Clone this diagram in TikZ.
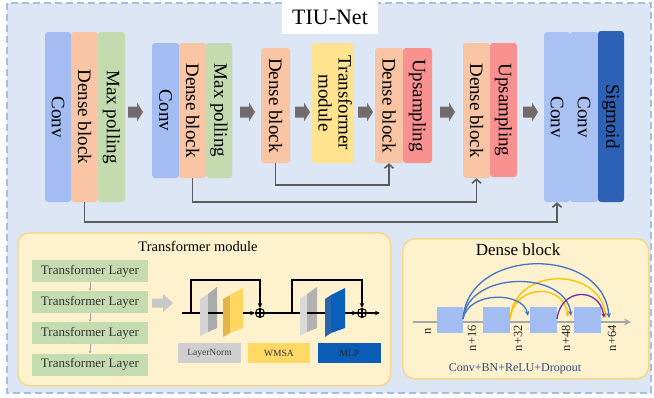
\documentclass[tikz,border=0pt]{standalone}
\usepackage{fontspec}
\setmainfont{Liberation Serif}
\usetikzlibrary{arrows.meta,calc}
\definecolor{bgc}{HTML}{DCE6F4}
\definecolor{bgborder}{HTML}{A7BDE6}
\definecolor{convc}{HTML}{A3BCF1}
\definecolor{convlc}{HTML}{A9C1F3}
\definecolor{densec}{HTML}{F9C5A4}
\definecolor{maxc}{HTML}{C4DAAF}
\definecolor{upc}{HTML}{F99191}
\definecolor{sigc}{HTML}{2D61B6}
\definecolor{tmc}{HTML}{FFE38E}
\definecolor{arrc}{HTML}{736B6B}
\definecolor{skipc}{HTML}{5A5A5A}
\definecolor{panelc}{HTML}{FDF1CE}
\definecolor{panelb}{HTML}{F6D98C}
\definecolor{tlc}{HTML}{C5DCB0}
\definecolor{arcblue}{HTML}{4472C4}
\definecolor{arcyel}{HTML}{FFC000}
\definecolor{arcpur}{HTML}{7030A0}
\definecolor{dtext}{HTML}{2F4A78}
\definecolor{yeldark}{HTML}{E2B548}
\definecolor{yellight}{HTML}{FFD760}
\definecolor{bluedark}{HTML}{2A65AC}
\definecolor{bluelight}{HTML}{0B5FBC}
\definecolor{wmsac}{HTML}{FFD966}
\definecolor{mlpc}{HTML}{0B5CB5}
\begin{document}
\begin{tikzpicture}[x=1pt,y=-1pt,
  blk/.style={rounded corners=3pt, inner sep=0pt, font=\fontsize{19}{22}\selectfont},
  skip/.style={draw=skipc, line width=1.6pt, -{Straight Barb[length=4pt,width=9pt]}},
  panel/.style={rounded corners=12pt, fill=panelc, draw=panelb, line width=1.5pt, inner sep=0pt},
  tlayer/.style={fill=tlc, inner sep=0pt, minimum width=116, minimum height=22, font=\fontsize{13}{15}\selectfont, text=black!80},
  smallarr/.style={draw=black!35, line width=0.8pt, -{Stealth[length=2.5pt,width=3pt]}},
  tline/.style={draw=black, line width=1.1pt},
  tarr/.style={tline, -{Stealth[length=5pt,width=4.5pt]}},
  plus/.style={circle, draw=black, line width=1pt, fill=panelc, minimum size=9, inner sep=0pt},
  legend/.style={inner sep=0pt, minimum height=20, font=\fontsize{9.5}{11}\selectfont},
  dbox/.style={fill=convc, inner sep=0pt, minimum width=27, minimum height=26},
  nlab/.style={rotate=90, anchor=east, inner sep=0pt, font=\fontsize{12.5}{14}\selectfont, text=black!85},
  arc/.style={line width=1.3pt, -{Stealth[length=5pt,width=4.5pt]}},
  fatarrow/.pic={\fill[arrc] (0,-5.5) -- (9,-5.5) -- (9,-9.5) -- (15,0) -- (9,9.5) -- (9,5.5) -- (0,5.5) -- cycle;},
  lightarrow/.pic={\fill[black!22] (0,-4.5) -- (11,-4.5) -- (11,-9) -- (21,0) -- (11,9) -- (11,4.5) -- (0,4.5) -- cycle;}
]
\useasboundingbox (0,0) rectangle (654,397);
% background
\fill[bgc] (7,3) rectangle (651,393);
\draw[bgborder, line width=1.8pt, dash pattern=on 7pt off 4pt] (7,3) rectangle (651,393);
% title
\node[fill=white, inner sep=0pt, minimum width=96, minimum height=34, font=\fontsize{22}{24}\selectfont] (title) at (330,17) {TIU-Net};

% encoder
\node[blk, fill=convc, minimum width=26, minimum height=170] (c1) at (58,117) {\rotatebox{-90}{Conv}};
\node[blk, fill=densec, minimum width=27, minimum height=170] (d1) at (84.5,117) {\rotatebox{-90}{Dense block}};
\node[blk, fill=maxc, minimum width=27, minimum height=170] (m1) at (111.5,117) {\rotatebox{-90}{Max polling}};
\node[blk, fill=convc, minimum width=27, minimum height=135] (c2) at (165.5,110.5) {\rotatebox{-90}{Conv}};
\node[blk, fill=densec, minimum width=27, minimum height=135] (d2) at (192.5,110.5) {\rotatebox{-90}{Dense block}};
\node[blk, fill=maxc, minimum width=26, minimum height=135] (m2) at (219,110.5) {\rotatebox{-90}{Max polling}};
\node[blk, fill=densec, minimum width=29, minimum height=115] (d3) at (275.5,105.5) {\rotatebox{-90}{Dense block}};
\node[blk, fill=tmc, minimum width=42, minimum height=120] (tm) at (333,103) {\rotatebox{-90}{\begin{tabular}{@{}c@{}}Transformer\\[-2pt]module\end{tabular}}};
\node[blk, fill=densec, minimum width=28, minimum height=115] (d4) at (389,105.5) {\rotatebox{-90}{Dense block}};
\node[blk, fill=upc, minimum width=29, minimum height=115] (u1) at (417.5,105.5) {\rotatebox{-90}{Upsampling}};
\node[blk, fill=densec, minimum width=27, minimum height=135] (d5) at (476.5,110.5) {\rotatebox{-90}{Dense block}};
\node[blk, fill=upc, minimum width=27, minimum height=134] (u2) at (503.5,110) {\rotatebox{-90}{Upsampling}};
\node[blk, fill=convlc, minimum width=26, minimum height=170] (c3) at (557,117) {\rotatebox{-90}{Conv}};
\node[blk, fill=convlc, minimum width=28, minimum height=170] (c4) at (584,117) {\rotatebox{-90}{Conv}};
\node[blk, fill=sigc, minimum width=26, minimum height=171] (sg) at (611,116.5) {\rotatebox{-90}{Sigmoid}};

% block arrows
\pic at (128,112) {fatarrow};
\pic at (240,112) {fatarrow};
\pic at (295,112) {fatarrow};
\pic at (358,112) {fatarrow};
\pic at (440,112) {fatarrow};
\pic at (523,112) {fatarrow};

% skip connections
\draw[skip] (d3.south) -- ++(0,22) -| (d4.south);
\draw[skip] (d2.south) -- ++(0,24) -| (d5.south);
\draw[skip] (d1.south) -- ++(0,20) -| (c3.south);

% ---------- Transformer module panel
\node[panel, minimum width=373, minimum height=153, anchor=north west] (tp) at (17,232) {};
\node[font=\fontsize{14.5}{16}\selectfont] (tpt) at (198,246) {Transformer module};
\node[tlayer] (tl1) at (90,271) {Transformer Layer};
\node[tlayer] (tl2) at (90,302) {Transformer Layer};
\node[tlayer] (tl3) at (90,333) {Transformer Layer};
\node[tlayer] (tl4) at (90,364.5) {Transformer Layer};
\draw[smallarr] (tl1.south) -- (tl2.north);
\draw[smallarr] (tl2.south) -- (tl3.north);
\draw[smallarr] (tl3.south) -- (tl4.north);
\pic at (152,303) {lightarrow};

\coordinate (tin) at (182,313);
\coordinate (s1) at (191,313);
\coordinate (s2) at (292,313);
\coordinate (tout) at (380,313);
\node[plus] (p1) at (260,313) {};
\node[plus] (p2) at (362,313) {};
\draw[tline] (p1.north) -- (p1.south) (p1.west) -- (p1.east);
\draw[tline] (p2.north) -- (p2.south) (p2.west) -- (p2.east);
\draw[tarr] (tin) -- (p1.west);
\draw[tline] (p1.east) -- (p2.west);
\draw[tarr] ($(p2.west)+(-10,0)$) -- (p2.west);
\draw[tarr] (p2.east) -- (tout);
\draw[tarr] (s1) -- (191,280) -| (p1.north);
\draw[tarr] (s2) -- (292,280) -| (p2.north);
% plates
\fill[black!17] (200,299) -- (208,294) -- (208,332) -- (200,336) -- cycle;
\fill[black!33] (208,294) -- (217,287) -- (217,328) -- (208,332) -- cycle;
\fill[yeldark] (223,299) -- (230,295) -- (230,333) -- (223,337) -- cycle;
\fill[yellight] (230,295) -- (243,288) -- (243,328) -- (230,333) -- cycle;
\fill[black!15] (300,299) -- (307,294) -- (307,332) -- (300,336) -- cycle;
\fill[black!30] (307,294) -- (317,287) -- (317,328) -- (307,332) -- cycle;
\fill[bluedark] (325,299) -- (331,295) -- (331,333) -- (325,337) -- cycle;
\fill[bluelight] (331,295) -- (345,288) -- (345,328) -- (331,333) -- cycle;
\draw[tline] (208,313) -- (223,313);
\draw[tline] (243,313) -- (250,313);
\draw[tline] (307,313) -- (325,313);
\draw[tline] (345,313) -- (350,313);
% legends
\node[legend, fill=black!19, minimum width=63, text=black!75] (lg1) at (209.5,353) {LayerNorm};
\node[legend, fill=wmsac, minimum width=62, text=black!80] (lg2) at (279,353) {WMSA};
\node[legend, fill=mlpc, minimum width=63, text=black!85] (lg3) at (349.5,353) {MLP};

% ---------- Dense block panel
\node[panel, minimum width=246, minimum height=140, anchor=north west] (dp) at (402,238) {};
\node[font=\fontsize{17}{19}\selectfont] (dpt) at (518,250) {Dense block};
\coordinate (ax0) at (413,322);
\coordinate (ax1) at (631,322);
\draw[black!35, line width=2.2pt, -{Stealth[length=7pt,width=7pt]}] (ax0) -- (ax1);
\node[dbox, minimum width=26] (b1) at (450,320) {};
\node[dbox] (b2) at (496.5,320) {};
\node[dbox] (b3) at (543.5,320) {};
\node[dbox] (b4) at (587.5,320) {};
\node[nlab] (l0) at (428,328) {n};
\node[nlab] (l1) at (472,325) {n+16};
\node[nlab] (l2) at (518,325) {n+32};
\node[nlab] (l3) at (566,325) {n+48};
\node[nlab] (l4) at (612,325) {n+64};
\coordinate (e1) at (528,316);
\coordinate (e2) at (571,316);
\coordinate (e3) at (609,318);
\coordinate (e4) at (568,317);
\coordinate (e5) at (606,318);
\coordinate (e6) at (604,318);
\coordinate (o1) at (463,319);
\coordinate (o2) at (510,319);
\coordinate (o3) at (557,319);
\draw[arc, arcyel] (o2) .. controls (514,266) and (600,266) .. (e5);
\draw[arc, arcyel] (o2) .. controls (515,283) and (564,283) .. (e4);
\draw[arc, arcblue] (o1) .. controls (468,246) and (604,246) .. (e3);
\draw[arc, arcblue] (o1) .. controls (468,270) and (566,270) .. (e2);
\draw[arc, arcblue] (o1) .. controls (468,291) and (523,291) .. (e1);
\draw[arc, arcpur] (o3) .. controls (561,287) and (600,287) .. (e6);
\node[font=\fontsize{12}{14}\selectfont, text=dtext] (dcap) at (515,369) {Conv+BN+ReLU+Dropout};
\end{tikzpicture}
\end{document}
